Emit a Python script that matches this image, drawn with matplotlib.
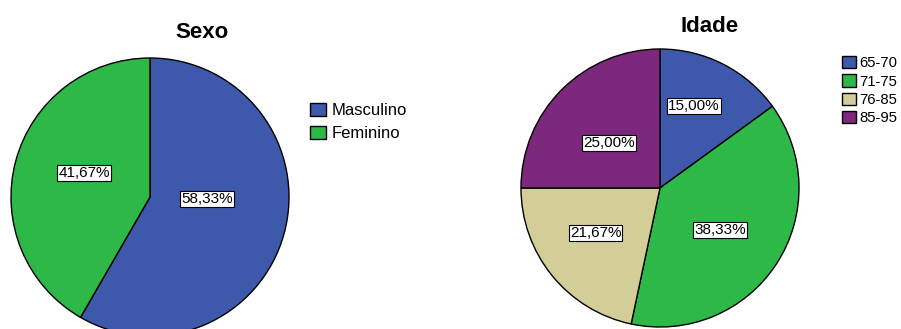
import matplotlib
matplotlib.use("Agg")
import matplotlib.pyplot as plt
import numpy as np

plt.rcParams['font.family'] = ['Liberation Sans', 'DejaVu Sans']

# Data
sexo_labels = ["Masculino", "Feminino"]
sexo_values = [58.33, 41.67]
idade_labels = ["65-70", "71-75", "76-85", "85-95"]
idade_values = [15.00, 38.33, 21.67, 25.00]

sexo_colors = ["#3E58AC", "#2EB848"]
idade_colors = ["#3E58AC", "#2EB848", "#D3CE97", "#7C287D"]

W, H = 901, 329
fig = plt.figure(figsize=(W / 100, H / 100), dpi=100)


def px_axes(cx, cy, r):
    return fig.add_axes([(cx - r) / W, (H - cy - r) / H, 2 * r / W, 2 * r / H])


def fmt(p):
    return ("%.2f%%" % p).replace(".", ",")


def draw_pie(ax, values, colors, dists, shifts):
    wedges, _, autotexts = ax.pie(
        values, colors=colors, startangle=90, counterclock=False,
        autopct=fmt, radius=1.0,
        wedgeprops=dict(edgecolor="black", linewidth=1.0),
        textprops=dict(fontsize=11, color="black"))
    for w, t, d, s in zip(wedges, autotexts, dists, shifts):
        th = np.deg2rad((w.theta1 + w.theta2) / 2 + s)
        t.set_position((d * np.cos(th), d * np.sin(th)))
        t.set_bbox(dict(facecolor="white", edgecolor="black", linewidth=0.8, pad=0.8))
    ax.set_xlim(-1.0, 1.0)
    ax.set_ylim(-1.0, 1.0)
    ax.set_aspect("equal")
    ax.axis("off")
    return wedges


ax1 = px_axes(150, 197, 139)
w1 = draw_pie(ax1, sexo_values, sexo_colors, [0.41, 0.505], [13, -5])
for w in w1:
    w.set_clip_on(False)

ax2 = px_axes(660, 188, 139)
w2 = draw_pie(ax2, idade_values, idade_colors, [0.64, 0.53, 0.565, 0.49],
              [4.5, -2, -4, 3.6])

fig.text(202 / W, 1 - 32 / H, "Sexo", ha="center", va="center",
         fontsize=16, fontweight="bold")
fig.text(710 / W, 1 - 27 / H, "Idade", ha="center", va="center",
         fontsize=16, fontweight="bold")

fig.legend(w1, sexo_labels, loc="upper left", bbox_to_anchor=(310 / W, 1 - 103 / H),
           frameon=False, fontsize=12, borderpad=0, borderaxespad=0,
           handlelength=0.95, handleheight=0.85, handletextpad=0.35,
           labelspacing=0.45)
fig.legend(w2, idade_labels, loc="upper left", bbox_to_anchor=(842 / W, 1 - 56 / H),
           frameon=False, fontsize=10.7, borderpad=0, borderaxespad=0,
           handlelength=0.95, handleheight=0.9, handletextpad=0.2,
           labelspacing=0.27)

fig.savefig("out.png", dpi=100)
